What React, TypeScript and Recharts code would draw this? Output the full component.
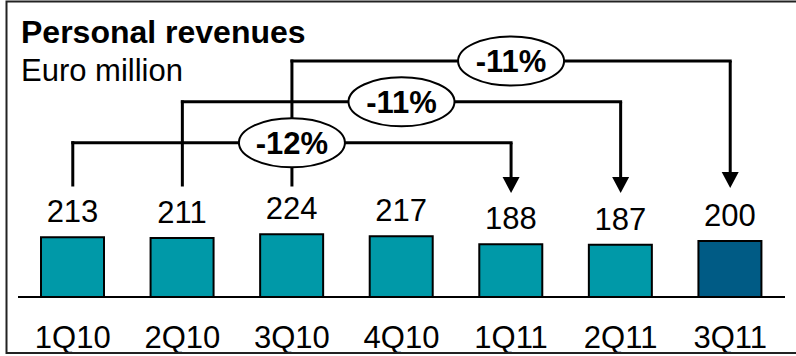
import {
  BarChart,
  Bar,
  XAxis,
  YAxis,
  Cell,
  LabelList,
  ReferenceLine,
  ReferenceDot,
} from 'recharts'

const quarters = ['1Q10', '2Q10', '3Q10', '4Q10', '1Q11', '2Q11', '3Q11']
const revenues = [213, 211, 224, 217, 188, 187, 200]
const barColors = ['#0099a8', '#0099a8', '#0099a8', '#0099a8', '#0099a8', '#0099a8', '#005b85']

// year-on-year comparisons drawn as brackets over the bars
const compareFrom = ['1Q10', '2Q10', '3Q10']
const compareTo = ['1Q11', '2Q11', '3Q11']
const compareLabels = ['-12%', '-11%', '-11%']
const labelAt = ['3Q10', '4Q10', '1Q11']
// bracket heights in axis units
const bracketLevels = [551, 697, 843]
const bracketStart = 400
const arrowEnds = [371, 371, 389]

const data = quarters.map((q, i) => ({ q, value: revenues[i] }))

const FONT = '"Liberation Sans", Arial, Helvetica, sans-serif'

const LineShape = (p: any) => (
  <line
    x1={p.x1}
    y1={p.y1}
    x2={p.x2}
    y2={p.y2}
    stroke="#000"
    strokeWidth={3}
    strokeLinecap="square"
  />
)

const ArrowShape = (p: any) => {
  const head = 16
  return (
    <g>
      <line x1={p.x1} y1={p.y1} x2={p.x2} y2={p.y2 - head} stroke="#000" strokeWidth={3} />
      <polygon
        points={`${p.x2 - 8.5},${p.y2 - head} ${p.x2 + 8.5},${p.y2 - head} ${p.x2},${p.y2}`}
        fill="#000"
      />
    </g>
  )
}

const bubble = (text: string) => (p: any) => (
  <g>
    <ellipse cx={p.cx} cy={p.cy} rx={53} ry={24.5} fill="#fff" stroke="#000" strokeWidth={2} />
    <text
      x={p.cx}
      y={p.cy + 11}
      textAnchor="middle"
      fontSize={31}
      fontWeight="bold"
      fontFamily={FONT}
      fill="#000"
    >
      {text}
    </text>
  </g>
)

const QuarterTick = ({ x, y, payload }: any) => (
  <text x={x} y={y + 43} textAnchor="middle" fontSize={31} fontFamily={FONT} fill="#000">
    {payload.value}
  </text>
)

export default function App() {
  return (
    <div style={{ position: 'fixed', left: 0, top: 0, width: 796, height: 356, background: '#fff' }}>
      <BarChart
        width={796}
        height={356}
        data={data}
        margin={{ top: 17, right: 11, left: 18, bottom: 0 }}
      >
        <XAxis
          dataKey="q"
          axisLine={{ stroke: '#000', strokeWidth: 2 }}
          tickLine={false}
          tick={<QuarterTick />}
          interval={0}
          height={59}
        />
        <YAxis hide type="number" domain={[0, 1000]} />
        <Bar dataKey="value" barSize={63} stroke="#000" strokeWidth={2} isAnimationActive={false}>
          {data.map((d, i) => (
            <Cell key={d.q} fill={barColors[i]} />
          ))}
          <LabelList
            dataKey="value"
            position="top"
            offset={15}
            fontSize={31}
            fontFamily={FONT}
            fill="#000"
            stroke="none"
          />
        </Bar>
        {compareFrom.map((from, i) => (
          <ReferenceLine
            key={'up' + i}
            segment={[
              { x: from, y: bracketStart },
              { x: from, y: bracketLevels[i] },
            ]}
            ifOverflow="visible"
            shape={LineShape}
          />
        ))}
        {compareFrom.map((from, i) => (
          <ReferenceLine
            key={'across' + i}
            segment={[
              { x: from, y: bracketLevels[i] },
              { x: compareTo[i], y: bracketLevels[i] },
            ]}
            ifOverflow="visible"
            shape={LineShape}
          />
        ))}
        {compareTo.map((to, i) => (
          <ReferenceLine
            key={'down' + i}
            segment={[
              { x: to, y: bracketLevels[i] },
              { x: to, y: arrowEnds[i] },
            ]}
            ifOverflow="visible"
            shape={ArrowShape}
          />
        ))}
        {labelAt.map((q, i) => (
          <ReferenceDot
            key={'lbl' + i}
            x={q}
            y={bracketLevels[i]}
            ifOverflow="visible"
            shape={bubble(compareLabels[i])}
          />
        ))}
      </BarChart>
      <svg
        width={796}
        height={356}
        style={{ position: 'absolute', left: 0, top: 0, pointerEvents: 'none' }}
      >
        <polyline points="796,1.5 6.5,1.5 6.5,353 796,353" fill="none" stroke="#222" strokeWidth={2} />
        <text x={21} y={43} fontSize={32} fontWeight="bold" fontFamily={FONT} fill="#000">
          Personal revenues
        </text>
        <text x={21} y={81} fontSize={31} fontFamily={FONT} fill="#000">
          Euro million
        </text>
      </svg>
    </div>
  )
}
